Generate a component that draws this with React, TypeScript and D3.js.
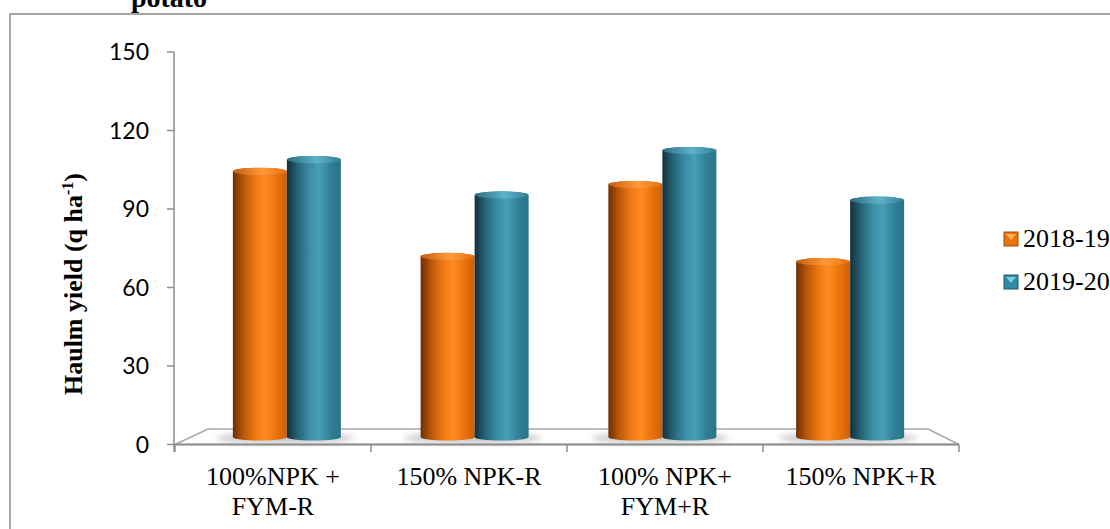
import React from "react";
import * as d3 from "d3";

// Haulm yield of potato under residue / nutrient treatments, two seasons
const categoryLabels = ["100%NPK +\nFYM-R", "150% NPK-R", "100% NPK+\nFYM+R", "150% NPK+R"];
const seriesNames = ["2018-19", "2019-20"];
const yield2018 = [101.5, 69, 96.5, 67];
const yield2019 = [106, 92.5, 109.5, 90.5];
const yTicks = [0, 30, 60, 90, 120, 150];
const titleText = "potato";
const yTitle = "Haulm yield (q ha";
const yTitleSup = "-1";

const W = 1110;
const H = 529;

const seriesValues = [yield2018, yield2019];
const seriesGrad = ["gradOrange", "gradTeal"];
const seriesTopGrad = ["gradOrangeTop", "gradTealTop"];
const legendBase = ["#e8720c", "#2f8aa2"];
const legendLight = ["#ffb15a", "#7fcde0"];
const legendDark = ["#a24c06", "#1d5a6b"];

export default function App() {
  // front plane of the 3-D box (axis lives here)
  const y = d3.scaleLinear().domain([0, 150]).range([444.5, 52]);
  const xFront = d3.scaleBand<number>().domain(d3.range(4)).range([175, 959]).padding(0);
  // bars stand half-way back in the box: slightly narrower and raised
  const depthDy = -7.5;
  const xMid = d3.scaleBand<number>().domain(d3.range(4)).range([193, 944]).padding(0);
  const pairW = 108;
  const xSeries = d3.scaleBand<number>().domain([0, 1]).range([0, pairW]).padding(0);
  const barW = xSeries.bandwidth();
  const rx = barW / 2;
  const ry = 3.6;
  const base = y(0) + depthDy;

  const floorFront = 444.5;
  const floorBack = 429;
  const axisColor = "#8e8e8e";

  const boundaries = d3.range(5).map((i) => (i < 4 ? xFront(i)! : xFront(3)! + xFront.bandwidth()));

  return (
    <svg width={W} height={H} style={{ position: "absolute", left: 0, top: 0, background: "#fff" }}>
      <defs>
        <linearGradient id="gradOrange" x1="0" x2="1" y1="0" y2="0">
          <stop offset="0" stopColor="#6e2f03" />
          <stop offset="0.18" stopColor="#b4540a" />
          <stop offset="0.42" stopColor="#f07a12" />
          <stop offset="0.6" stopColor="#ff8b22" />
          <stop offset="0.82" stopColor="#ea710b" />
          <stop offset="1" stopColor="#cc6008" />
        </linearGradient>
        <linearGradient id="gradOrangeTop" x1="0" x2="1" y1="0" y2="0">
          <stop offset="0" stopColor="#c65e0c" />
          <stop offset="0.55" stopColor="#ff9a3a" />
          <stop offset="1" stopColor="#e5700e" />
        </linearGradient>
        <linearGradient id="gradTeal" x1="0" x2="1" y1="0" y2="0">
          <stop offset="0" stopColor="#132f3a" />
          <stop offset="0.18" stopColor="#245f71" />
          <stop offset="0.42" stopColor="#3a8ea5" />
          <stop offset="0.6" stopColor="#489fb7" />
          <stop offset="0.82" stopColor="#307f95" />
          <stop offset="1" stopColor="#2a7489" />
        </linearGradient>
        <linearGradient id="gradTealTop" x1="0" x2="1" y1="0" y2="0">
          <stop offset="0" stopColor="#2a6e82" />
          <stop offset="0.55" stopColor="#5db3ca" />
          <stop offset="1" stopColor="#347f95" />
        </linearGradient>
        <filter id="softShadow" x="-20%" y="-200%" width="140%" height="500%">
          <feGaussianBlur stdDeviation="3" />
        </filter>
      </defs>

      {/* chart area border */}
      <rect x={10} y={14} width={1200} height={600} fill="none" stroke="#8a8a8a" strokeWidth={1.5} />

      {/* title, mostly cut off at the top */}
      <text x={169} y={7} textAnchor="middle" fontFamily="'Liberation Serif', serif" fontWeight="bold" fontSize={28}>
        {titleText}
      </text>

      {/* floor of the 3-D box */}
      <polygon
        points={`${boundaries[0]},${floorFront} ${boundaries[4]},${floorFront} ${boundaries[4] - 31},${floorBack} ${boundaries[0] + 33},${floorBack}`}
        fill="#fff"
        stroke="#a8a8a8"
        strokeWidth={1.5}
      />
      <line x1={boundaries[0]} x2={boundaries[4]} y1={floorFront} y2={floorFront} stroke={axisColor} strokeWidth={2} />
      {boundaries.map((bx, i) => (
        <line key={`ct${i}`} x1={bx} x2={bx} y1={floorFront} y2={452} stroke={axisColor} strokeWidth={1.5} />
      ))}

      {/* value axis */}
      <line x1={174} x2={174} y1={y(150)} y2={452} stroke={axisColor} strokeWidth={1.5} />
      {yTicks.map((t) => (
        <g key={t}>
          <line x1={167} x2={174} y1={y(t)} y2={y(t)} stroke={axisColor} strokeWidth={1.5} />
          <text
            x={149}
            y={y(t)}
            dy="0.36em"
            textAnchor="end"
            fontFamily="Lato, 'Open Sans', sans-serif"
            fontSize={23}
            fill="#000"
          >
            {t}
          </text>
        </g>
      ))}

      {/* y title */}
      <text
        transform="translate(82,284) rotate(-90)"
        textAnchor="middle"
        fontFamily="'Liberation Serif', serif"
        fontWeight="bold"
        fontSize={26}
      >
        {yTitle}
        <tspan dy={-9} fontSize={16}>
          {yTitleSup}
        </tspan>
        <tspan dy={9}>)</tspan>
      </text>

      {/* shadows beneath bar pairs */}
      {d3.range(4).map((i) => {
        const cx = xMid(i)! + xMid.bandwidth() / 2;
        return (
          <ellipse
            key={`sh${i}`}
            cx={cx - 2}
            cy={base + 1}
            rx={pairW / 2 + 15}
            ry={4.5}
            fill="#8a8a8a"
            opacity={0.55}
            filter="url(#softShadow)"
          />
        );
      })}

      {/* cylinders */}
      {d3.range(4).map((i) => {
        const x0Pair = xMid(i)! + (xMid.bandwidth() - pairW) / 2;
        return (
          <g key={`cat${i}`}>
            {seriesValues.map((vals, s) => {
              const x0 = x0Pair + xSeries(s)!;
              const x1 = x0 + barW;
              const top = y(vals[i]) + depthDy;
              const d = `M${x0},${top} L${x0},${base} A${rx},${ry} 0 0 0 ${x1},${base} L${x1},${top} A${rx},${ry} 0 0 0 ${x0},${top} Z`;
              return (
                <g key={`b${s}`}>
                  <path d={d} fill={`url(#${seriesGrad[s]})`} />
                  <ellipse cx={x0 + rx} cy={top} rx={rx} ry={ry} fill={`url(#${seriesTopGrad[s]})`} />
                </g>
              );
            })}
          </g>
        );
      })}

      {/* category labels */}
      {categoryLabels.map((lab, i) => {
        const cx = xFront(i)! + xFront.bandwidth() / 2;
        return (
          <text
            key={`cl${i}`}
            x={cx}
            y={485}
            textAnchor="middle"
            fontFamily="'Liberation Serif', serif"
            fontSize={26}
            fill="#000"
          >
            {lab.split("\n").map((ln, k) => (
              <tspan key={k} x={cx} dy={k === 0 ? 0 : 30}>
                {ln}
              </tspan>
            ))}
          </text>
        );
      })}

      {/* legend */}
      {seriesNames.map((name, s) => {
        const ly = 247 + s * 43;
        const mx = 1004;
        const my = ly - 15;
        return (
          <g key={`lg${s}`}>
            <rect x={mx} y={my} width={14} height={14} fill={legendBase[s]} stroke={legendDark[s]} strokeWidth={1} />
            <polygon points={`${mx + 2},${my + 2} ${mx + 12},${my + 2} ${mx + 7},${my + 8}`} fill={legendLight[s]} />
            <text x={1023} y={ly} fontFamily="'Liberation Serif', serif" fontSize={26} fill="#000">
              {name}
            </text>
          </g>
        );
      })}
    </svg>
  );
}
